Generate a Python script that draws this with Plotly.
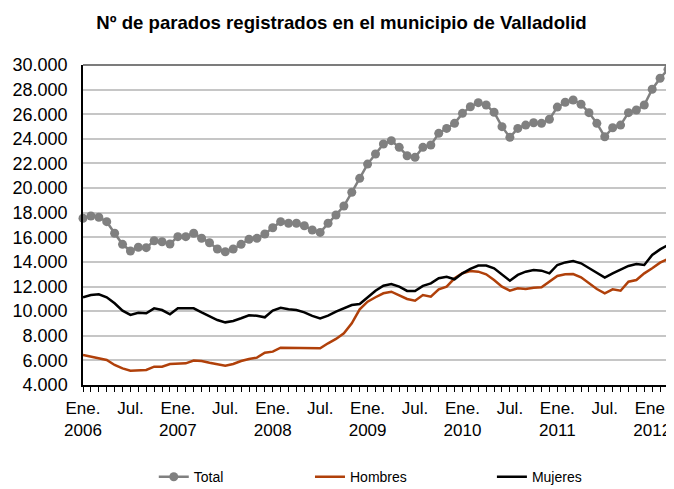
import plotly.graph_objects as go

month_names = ["Ene.", "Feb.", "Mar.", "Abr.", "May.", "Jun.", "Jul.", "Ago.", "Sep.", "Oct.", "Nov.", "Dic."]
years = [2006, 2007, 2008, 2009, 2010, 2011, 2012]
months = [f"{m} {y}" for y in years for m in month_names][:75]  # Ene. 2006 .. Mar. 2012

total = [
    17550, 17730, 17630, 17270, 16330, 15430, 14890, 15190, 15160, 15720, 15640, 15460,
    16050, 16050, 16330, 15920, 15560, 15050, 14830, 15050, 15430, 15840, 15920, 16270,
    16780, 17270, 17140, 17140, 16940, 16590, 16400, 17140, 17810, 18540, 19660, 20790,
    21950, 22770, 23580, 23850, 23310, 22630, 22500, 23310, 23500, 24450, 24850, 25260,
    26070, 26610, 26940, 26750, 26160, 24990, 24120, 24850, 25120, 25310, 25260, 25590,
    26580, 26970, 27160, 26810, 26130, 25260, 24170, 24900, 25120, 26130, 26340, 26750,
    28030, 28920, 29650,
]
hombres = [
    6440, 6300, 6170, 6030, 5630, 5350, 5160, 5220, 5220, 5490, 5490, 5710,
    5760, 5760, 5990, 5950, 5810, 5680, 5570, 5710, 5950, 6110, 6220, 6620,
    6710, 7030, 7030, 7030, 6980, 6980, 6990, 7390, 7740, 8200, 9010, 10150,
    10770, 11130, 11450, 11580, 11310, 10990, 10850, 11310, 11170, 11770, 11990, 12670,
    13080, 13260, 13210, 12990, 12530, 11990, 11660, 11860, 11800, 11910, 11940, 12390,
    12860, 12990, 13020, 12750, 12260, 11800, 11450, 11770, 11660, 12390, 12530, 13070,
    13480, 13940, 14240,
]
mujeres = [
    11130, 11310, 11370, 11130, 10640, 10040, 9690, 9870, 9830, 10230, 10090, 9740,
    10230, 10230, 10230, 9900, 9610, 9280, 9090, 9200, 9420, 9660, 9630, 9500,
    10040, 10280, 10150, 10090, 9900, 9610, 9400, 9630, 9960, 10230, 10500, 10580,
    11130, 11660, 12070, 12210, 11990, 11640, 11640, 12050, 12260, 12670, 12800, 12590,
    13070, 13430, 13700, 13700, 13480, 12940, 12470, 12940, 13210, 13340, 13290, 13070,
    13750, 13960, 14080, 13890, 13480, 13070, 12720, 13070, 13400, 13670, 13830, 13750,
    14560, 15020, 15380,
]

tick_idx = list(range(0, 75, 6))
tick_text = [("Ene.<br>" + months[i].split(" ")[1]) if i % 12 == 0 else "Jul." for i in tick_idx]
y_ticks = list(range(4000, 30001, 2000))

x = list(range(len(months)))
FONT = "Liberation Sans, Arial, sans-serif"

# The page body has an 8px default margin, so the figure is drawn 8px smaller
# than the window and offset by 8px; margins are chosen accordingly.
W, H = 666, 481

fig = go.Figure()
fig.add_trace(go.Scatter(
    x=x, y=total, name="Total", mode="lines+markers",
    line=dict(color="#808080", width=2.5),
    marker=dict(color="#808080", size=9),
    cliponaxis=False, legend="legend",
    customdata=months, hovertemplate="%{customdata}: %{y}<extra>Total</extra>",
))
fig.add_trace(go.Scatter(
    x=x, y=hombres, name="Hombres", mode="lines",
    line=dict(color="#B0400A", width=2.5),
    cliponaxis=False, legend="legend2",
    customdata=months, hovertemplate="%{customdata}: %{y}<extra>Hombres</extra>",
))
fig.add_trace(go.Scatter(
    x=x, y=mujeres, name="Mujeres", mode="lines",
    line=dict(color="#000000", width=2.5),
    cliponaxis=False, legend="legend3",
    customdata=months, hovertemplate="%{customdata}: %{y}<extra>Mujeres</extra>",
))

leg_common = dict(orientation="h", yanchor="middle", xanchor="left",
                  font=dict(family=FONT, size=14, color="#000"),
                  bgcolor="rgba(0,0,0,0)", borderwidth=0)

fig.update_layout(
    width=W, height=H,
    margin=dict(l=75, r=6, t=57, b=104, autoexpand=False),
    paper_bgcolor="white", plot_bgcolor="white",
    separators=",.",
    font=dict(family=FONT, color="#000"),
    title=dict(text="<b>Nº de parados registrados en el municipio de Valladolid</b>",
               font=dict(family=FONT, size=18.6, color="#000"),
               x=0.5008, xref="container", xanchor="center",
               y=1 - 14 / H, yref="container", yanchor="middle"),
    showlegend=True,
    legend=dict(x=0.121, y=-0.288, **leg_common),
    legend2=dict(x=0.388, y=-0.288, **leg_common),
    legend3=dict(x=0.699, y=-0.288, **leg_common),
    xaxis=dict(
        range=[0, len(months) - 1],
        tickmode="array", tickvals=tick_idx, ticktext=tick_text,
        ticks="outside", ticklen=5, tickcolor="#000", tickwidth=1,
        minor=dict(dtick=1, tick0=0, ticks="outside", ticklen=5, tickcolor="#000", tickwidth=1),
        showline=True, linecolor="#000", linewidth=1.5,
        showgrid=False, zeroline=False, ticklabelstandoff=2,
        tickfont=dict(family=FONT, size=17, color="#000"),
    ),
    yaxis=dict(
        range=[4000, 30000],
        tickmode="array", tickvals=y_ticks, tickformat=",d",
        showline=True, linecolor="#000", linewidth=1.5,
        ticks="", ticklabelstandoff=10,
        showgrid=True, gridcolor="#c6c6c6", gridwidth=2,
        zeroline=False,
        tickfont=dict(family=FONT, size=18, color="#000"),
    ),
    shapes=[
        dict(type="line", xref="paper", yref="paper", x0=0, x1=1, y0=1, y1=1,
             line=dict(color="#505050", width=1.5), layer="above"),
        dict(type="line", xref="paper", yref="paper", x0=1, x1=1, y0=0, y1=1,
             line=dict(color="#8a8a8a", width=1.5), layer="below"),
    ],
)

fig.write_html("out.html")
